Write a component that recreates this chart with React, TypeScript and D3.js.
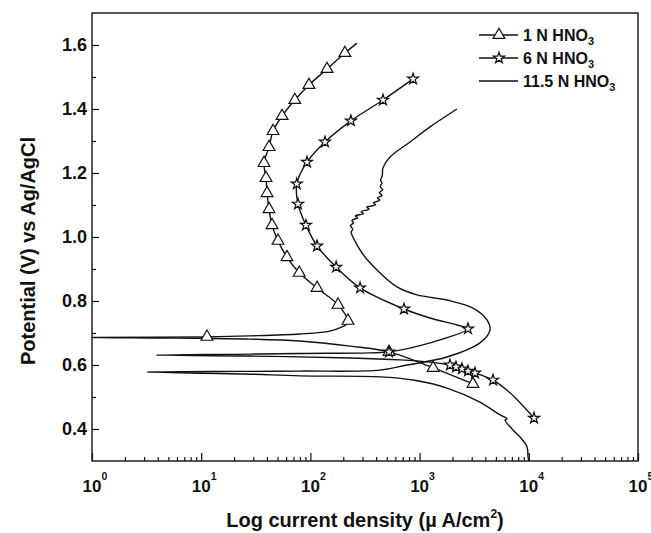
import React, { useRef, useEffect } from 'react';
import * as d3 from 'd3';

// [current density µA/cm², potential V vs Ag/AgCl]
type Pt = [number, number];

const xExponents = [0, 1, 2, 3, 4, 5];
const yMajorTicks = [0.4, 0.6, 0.8, 1.0, 1.2, 1.4, 1.6];
const yMinorTicks = [0.5, 0.7, 0.9, 1.1, 1.3, 1.5];

const legendNames = ['1 N HNO', '6 N HNO', '11.5 N HNO'];

// 1 N HNO3: cathodic end -> corrosion potential -> anodic top
const oneNLine: Pt[] = [
  [3080, 0.541], [1330, 0.591], [525, 0.641], [231, 0.659], [80, 0.675], [28, 0.681], [6, 0.684], [1, 0.686],
  [11.3, 0.688], [28, 0.691], [80, 0.697], [151, 0.706], [195, 0.719], [216, 0.728], [221, 0.738],
  [179, 0.788], [115, 0.841], [79, 0.888], [61, 0.937], [50.5, 0.988], [44.5, 1.037], [41.8, 1.087],
  [40.1, 1.137], [39.2, 1.184], [37.6, 1.231], [41.8, 1.281], [45.5, 1.331], [55, 1.378], [72, 1.428],
  [97, 1.475], [142, 1.525], [207, 1.575], [267, 1.606],
];
const oneNMarks: Pt[] = [
  [3080, 0.541], [1330, 0.591], [525, 0.641], [11.3, 0.688], [221, 0.738], [179, 0.788], [115, 0.841],
  [79, 0.888], [61, 0.937], [50.5, 0.988], [44.5, 1.037], [41.8, 1.087], [40.1, 1.137], [39.2, 1.184],
  [37.6, 1.231], [41.8, 1.281], [45.5, 1.331], [55, 1.378], [72, 1.428], [97, 1.475], [142, 1.525], [207, 1.575],
];

// 6 N HNO3
const sixNLine: Pt[] = [
  [11160, 0.434], [6731, 0.513], [4702, 0.553], [3215, 0.575], [2774, 0.581], [2445, 0.588], [2153, 0.594],
  [1897, 0.6], [1245, 0.609], [662, 0.616], [231, 0.622], [28, 0.628], [3.86, 0.631],
  [28, 0.634], [80, 0.636], [351, 0.638], [525, 0.641], [1245, 0.669], [2774, 0.713], [2198, 0.725],
  [1245, 0.747], [720, 0.775], [285, 0.841], [172, 0.906], [115, 0.972], [91, 1.037], [77, 1.103],
  [75, 1.166], [93, 1.234], [136, 1.297], [235, 1.363], [462, 1.428], [871, 1.494],
];
const sixNMarks: Pt[] = [
  [11160, 0.434], [4702, 0.553], [3215, 0.575], [2774, 0.581], [2445, 0.588], [2153, 0.594], [1897, 0.6],
  [525, 0.641], [2774, 0.713], [720, 0.775], [285, 0.841], [172, 0.906], [115, 0.972], [91, 1.037],
  [77, 1.103], [75, 1.166], [93, 1.234], [136, 1.297], [235, 1.363], [462, 1.428], [871, 1.494],
];

// 11.5 N HNO3 (no symbols)
const elevenNLine: Pt[] = [
  [10040, 0.297], [9840, 0.313], [9630, 0.344], [8301, 0.375], [7170, 0.397], [6057, 0.428], [6300, 0.432],
  [5448, 0.444], [3571, 0.484], [1783, 0.528], [871, 0.553], [434, 0.563], [80, 0.566], [25, 0.572], [3.19, 0.578],
  [25, 0.58], [80, 0.581], [434, 0.584], [767, 0.6], [1783, 0.625], [3571, 0.669], [4412, 0.709], [4141, 0.741],
  [3083, 0.778], [1783, 0.803], [947, 0.819], [621, 0.844], [407, 0.897], [297, 0.95], [245, 1.0],
  [236, 1.015], [244, 1.025], [233, 1.035], [248, 1.045], [240, 1.052], [270, 1.06], [258, 1.066], [305, 1.073],
  [292, 1.079], [345, 1.087], [328, 1.093], [395, 1.101], [378, 1.107], [432, 1.115], [412, 1.122], [452, 1.13],
  [428, 1.138], [458, 1.148], [436, 1.158], [452, 1.168], [440, 1.178], [455, 1.192], [462, 1.216],
  [536, 1.25], [817, 1.297], [1245, 1.344], [2198, 1.4],
];

const FONT = "Arial, 'Liberation Sans', sans-serif";
const INK = '#111';

const App = () => {
  const ref = useRef<SVGSVGElement>(null);

  useEffect(() => {
    const svg = d3.select(ref.current);
    svg.selectAll('*').remove();

    const left = 92, right = 638, top = 13, bottom = 461;
    const x = d3.scaleLog().domain([1, 1e5]).range([left, right]);
    const y = d3.scaleLinear().domain([0.3, 1.7]).range([bottom, top]);

    svg.append('defs').append('clipPath').attr('id', 'plot-clip')
      .append('rect').attr('x', left).attr('y', top).attr('width', right - left).attr('height', bottom - top);

    // y axis (ticks inward)
    const yAxis = svg.append('g').attr('transform', `translate(${left},0)`)
      .call(d3.axisLeft(y).tickValues(yMajorTicks).tickSize(-7).tickPadding(5).tickFormat(d3.format('.1f')));
    svg.append('g').attr('transform', `translate(${left},0)`)
      .call(d3.axisLeft(y).tickValues(yMinorTicks).tickSize(-4).tickFormat(() => ''));

    // x axis major + minor ticks
    const minor: number[] = [];
    xExponents.slice(0, -1).forEach((e) => {
      for (let k = 2; k <= 9; k++) minor.push(k * Math.pow(10, e));
    });
    svg.append('g').attr('transform', `translate(0,${bottom})`)
      .call(d3.axisBottom(x).tickValues(xExponents.map((e) => Math.pow(10, e))).tickSize(-8).tickFormat(() => ''));
    svg.append('g').attr('transform', `translate(0,${bottom})`)
      .call(d3.axisBottom(x).tickValues(minor).tickSize(-4).tickFormat(() => ''));

    svg.selectAll('.domain').remove();
    svg.selectAll('.tick line').attr('stroke', INK).attr('stroke-width', 1.2);
    yAxis.selectAll('text').attr('font-family', FONT).attr('font-size', 18)
      .attr('font-weight', 'bold').attr('fill', INK);

    // frame
    svg.append('rect').attr('x', left).attr('y', top).attr('width', right - left).attr('height', bottom - top)
      .attr('fill', 'none').attr('stroke', INK).attr('stroke-width', 1.4);

    // x tick labels 10^n
    const xl = svg.append('g').attr('font-family', FONT).attr('font-weight', 'bold').attr('fill', INK);
    xExponents.forEach((e) => {
      const px = x(Math.pow(10, e));
      xl.append('text').attr('x', px).attr('y', 492).attr('text-anchor', 'middle').attr('font-size', 17).text('10');
      xl.append('text').attr('x', px + 9.5).attr('y', 480).attr('font-size', 10.5).text(String(e));
    });

    // axis titles
    const xt = svg.append('text').attr('x', (left + right) / 2).attr('y', 527).attr('text-anchor', 'middle')
      .attr('font-family', FONT).attr('font-size', 20).attr('font-weight', 'bold').attr('fill', INK);
    xt.append('tspan').text('Log current density (\u00b5 A/cm');
    xt.append('tspan').attr('font-size', 12).attr('dy', -9).text('2');
    xt.append('tspan').attr('dy', 9).text(')');

    svg.append('text').attr('transform', `translate(35,${(top + bottom) / 2 + 14}) rotate(-90)`)
      .attr('text-anchor', 'middle').attr('font-family', FONT).attr('font-size', 20)
      .attr('font-weight', 'bold').attr('fill', INK).text('Potential (V) vs Ag/AgCl');

    // curves
    const line = d3.line<Pt>()
      .x((d) => x(d[0]))
      .y((d) => y(d[1]))
      .curve(d3.curveCatmullRom.alpha(0.5));

    const plot = svg.append('g').attr('clip-path', 'url(#plot-clip)');
    [elevenNLine, sixNLine, oneNLine].forEach((data) => {
      plot.append('path').datum(data).attr('d', line).attr('fill', 'none')
        .attr('stroke', INK).attr('stroke-width', 1.4).attr('stroke-linejoin', 'round');
    });

    const tri = d3.symbol().type(d3.symbolTriangle).size(60);
    const star = d3.symbol().type(d3.symbolStar).size(38);

    plot.selectAll('.m1').data(oneNMarks).enter().append('path')
      .attr('transform', (d) => `translate(${x(d[0])},${y(d[1])})`)
      .attr('d', tri()).attr('fill', 'white').attr('stroke', INK).attr('stroke-width', 1.2);
    plot.selectAll('.m6').data(sixNMarks).enter().append('path')
      .attr('transform', (d) => `translate(${x(d[0])},${y(d[1])})`)
      .attr('d', star()).attr('fill', 'white').attr('stroke', INK).attr('stroke-width', 1.2);

    // legend
    const lg = svg.append('g');
    legendNames.forEach((name, i) => {
      const cy = 35 + i * 23;
      lg.append('line').attr('x1', 479).attr('x2', 518).attr('y1', cy).attr('y2', cy)
        .attr('stroke', INK).attr('stroke-width', 1.3);
      if (i === 0) {
        lg.append('path').attr('transform', `translate(499,${cy})`).attr('d', tri())
          .attr('fill', 'white').attr('stroke', INK).attr('stroke-width', 1.2);
      } else if (i === 1) {
        lg.append('path').attr('transform', `translate(499,${cy})`).attr('d', star())
          .attr('fill', 'white').attr('stroke', INK).attr('stroke-width', 1.2);
      }
      const t = lg.append('text').attr('x', 523).attr('y', cy + 5.5).attr('font-family', FONT)
        .attr('font-size', 16).attr('font-weight', 'bold').attr('fill', INK);
      t.append('tspan').text(name);
      t.append('tspan').attr('font-size', 11).attr('dy', 4).text('3');
    });
  }, []);

  return (
    <svg
      ref={ref}
      width={651}
      height={533}
      style={{ position: 'absolute', left: 0, top: 0, background: 'white' }}
    />
  );
};

export default App;
